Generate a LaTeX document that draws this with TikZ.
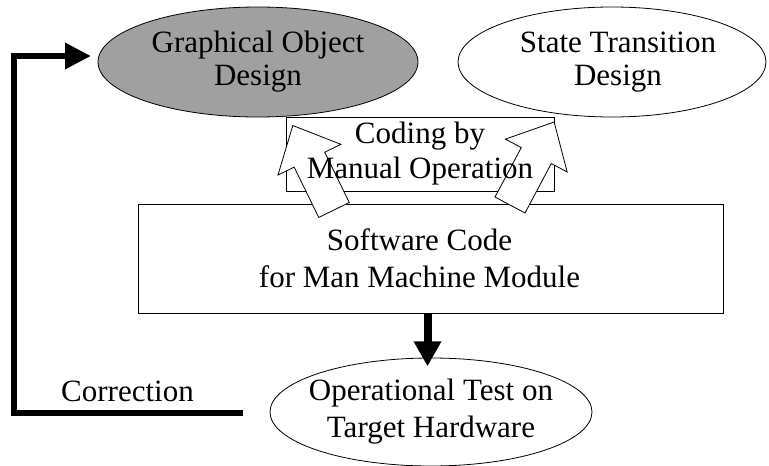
\documentclass[tikz,border=0pt]{standalone}
\usepackage{fontspec}
\setmainfont{Liberation Serif}
\usetikzlibrary{arrows.meta,shapes.geometric,positioning}
\definecolor{ink}{HTML}{000000}
\definecolor{shade}{HTML}{A0A0A0}

\begin{document}
\begin{tikzpicture}[
  x=1pt,y=-1pt,
  font=\fontsize{31}{35}\selectfont,
  oval/.style={ellipse,draw=ink,line width=.8pt,fill=white,inner sep=0pt},
  box/.style={rectangle,draw=ink,line width=.8pt,fill=white,inner sep=0pt},
  txt/.style={align=center,inner sep=0pt,text=ink},
  bigarrow/.style={-{Triangle[length=25pt,width=26pt]},line width=8pt,draw=ink},
  feedback/.style={-{Triangle[length=26pt,width=25pt]},line width=6.5pt,draw=ink},
  blockarrow/.pic={\draw[line width=.8pt,draw=ink,fill=white] (0,-17) -- (56,-17) -- (56,-35) -- (94,0) -- (56,35) -- (56,17) -- (0,17) -- cycle;}
]
\useasboundingbox (0,0) rectangle (769,466);

% design stages
\node[oval,fill=shade,minimum width=320pt,minimum height=110pt,label={[txt]center:Graphical Object\\[-2pt]Design}] (graph) at (258,62) {};
\node[oval,minimum width=308pt,minimum height=110pt,label={[txt,xshift=6pt]center:State Transition\\[-2pt]Design}] (state) at (612,62) {};

% coding and generated code
\node[box,minimum width=268pt,minimum height=74pt] (coding) at (420,154) {};
\node[box,minimum width=585pt,minimum height=109pt] (soft) at (430.5,258.5) {};
\node[txt,xshift=-11pt] (softlbl) at (soft) {Software Code\\[2pt]for Man Machine Module};

\pic[rotate=116] at (334,210) {blockarrow};
\pic[rotate=62] at (510,205) {blockarrow};
\node[txt] (codinglbl) at (coding) {Coding by\\Manual Operation};

% test and feedback
\node[oval,minimum width=322pt,minimum height=108pt,label={[txt]center:Operational Test on\\[2pt]Target Hardware}] (test) at (431,412) {};
\draw[bigarrow] ([xshift=-3pt]soft.south) -- ++(0,53);

\coordinate (corrstart) at (243,413);
\coordinate (graphin) at (91,56);
\draw[feedback] (corrstart) -- (14,413) |- (graphin);
\node[txt,anchor=base west] (corr) at (61,401) {Correction};
\end{tikzpicture}
\end{document}
